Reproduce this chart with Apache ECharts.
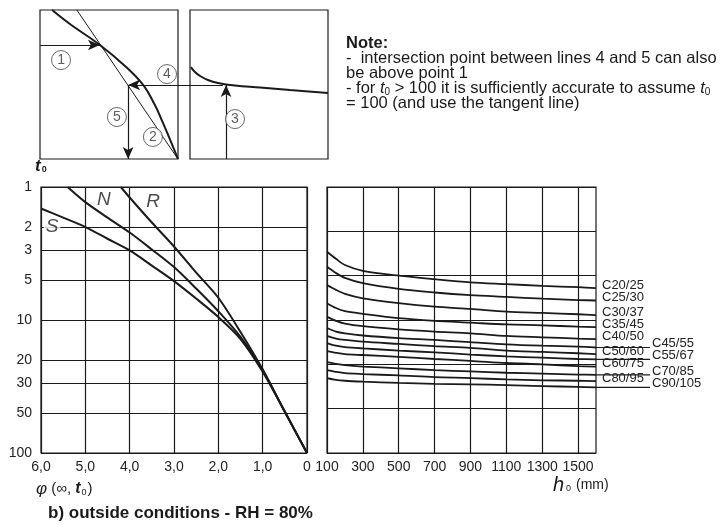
<!DOCTYPE html>
<html>
<head>
<meta charset="utf-8">
<script src="https://cdn.jsdelivr.net/npm/echarts@6/dist/echarts.min.js"></script>
<style>
  html, body { margin: 0; padding: 0; background: #fff; }
  #chart { width: 722px; height: 525px; }
</style>
</head>
<body>
<div id="chart"></div>
<script>
// ---- left nomogram: phi(inf, t0) vs t0, curves S / N / R
const phiTicks = [0, 1, 2, 3, 4, 5, 6];
const t0Ticks = [1, 2, 3, 5, 10, 20, 30, 50, 100];
const phiS = [6.0, 5.5, 5.0, 4.5, 4.0, 3.5, 3.0, 2.5, 2.0, 1.5, 1.0, 0.5, 0];
const t0S = [1.45, 1.7, 2.0, 2.45, 3.0, 3.9, 5.1, 6.9, 9.5, 13.9, 24.5, 49, 100];
const phiN = [5.4, 5.0, 4.5, 4.0, 3.5, 3.0, 2.5, 2.0, 1.5, 1.0, 0.5, 0];
const t0N = [1.0, 1.3, 1.7, 2.2, 2.95, 4.0, 5.8, 8.6, 13.4, 24, 49, 100];
const phiR = [4.2, 4.0, 3.5, 3.0, 2.5, 2.0, 1.5, 1.0, 0.5, 0];
const t0R = [1.0, 1.2, 1.85, 2.8, 4.4, 6.8, 12.3, 23.5, 49, 100];
const curveNames = ['S', 'N', 'R'];
const curveNamePhi = [5.75, 4.58, 3.47];
const curveNameT0 = [2.0, 1.25, 1.3];

// ---- right nomogram: h0 (mm) vs concrete class
const h0Ticks = [100, 300, 500, 700, 900, 1100, 1300, 1500];
const h0 = [100, 150, 200, 300, 500, 700, 900, 1100, 1300, 1500, 1600];
const classes = ['C20/25', 'C25/30', 'C30/37', 'C35/45', 'C40/50', 'C45/55',
  'C50/60', 'C55/67', 'C60/75', 'C70/85', 'C80/95', 'C90/105'];
const c20_25 = [4.54, 4.38, 4.24, 4.11, 4.00, 3.92, 3.85, 3.81, 3.77, 3.74, 3.72];
const c25_30 = [4.20, 4.06, 3.95, 3.83, 3.70, 3.62, 3.56, 3.52, 3.48, 3.45, 3.44];
const c30_37 = [3.79, 3.68, 3.59, 3.49, 3.38, 3.30, 3.25, 3.19, 3.16, 3.13, 3.11];
const c35_45 = [3.38, 3.27, 3.20, 3.14, 3.04, 2.98, 2.94, 2.90, 2.88, 2.85, 2.84];
const c40_50 = [3.07, 2.98, 2.92, 2.86, 2.79, 2.74, 2.70, 2.64, 2.61, 2.58, 2.57];
const c45_55 = [2.82, 2.74, 2.70, 2.65, 2.59, 2.55, 2.50, 2.45, 2.42, 2.40, 2.38];
const c50_60 = [2.64, 2.58, 2.55, 2.51, 2.46, 2.41, 2.37, 2.31, 2.28, 2.25, 2.23];
const c55_67 = [2.48, 2.42, 2.39, 2.36, 2.31, 2.27, 2.22, 2.18, 2.15, 2.12, 2.11];
const c60_75 = [2.30, 2.26, 2.23, 2.21, 2.17, 2.12, 2.08, 2.03, 2.00, 1.96, 1.95];
const c70_85 = [2.05, 2.01, 1.98, 1.95, 1.91, 1.87, 1.84, 1.81, 1.79, 1.77, 1.76];
const c80_95 = [1.87, 1.83, 1.80, 1.78, 1.75, 1.71, 1.69, 1.66, 1.64, 1.63, 1.62];
const c90_105 = [1.69, 1.65, 1.63, 1.61, 1.58, 1.56, 1.55, 1.53, 1.51, 1.49, 1.48];
const classValues = [c20_25, c25_30, c30_37, c35_45, c40_50, c45_55,
  c50_60, c55_67, c60_75, c70_85, c80_95, c90_105];
const shiftedLabels = ['C45/55', 'C55/67', 'C70/85', 'C90/105'];

// ---- small how-to sketch above (units 0..100 over both boxes)
const sketchCurveX = [4.2, 10.4, 20.8, 29.5, 35.8, 39.9, 42.7, 46.2, 47.9];
const sketchCurveY = [100, 90.6, 76.5, 62.4, 49.7, 36.2, 24.2, 8.1, 0];
const tangentX = [12.8, 47.9];
const tangentY = [100, 0];
const sketchH0X = [52.4, 53.8, 55.6, 58.3, 61.8, 67.7, 76.4, 86.8, 100];
const sketchH0Y = [61.7, 58.4, 55.7, 53.0, 51.0, 49.3, 48.0, 46.3, 44.3];
const arrow1 = [[0, 76.5], [20.8, 76.5]];
const arrow3 = [[64.6, 0], [64.6, 49.7]];
const arrow4 = [[63.5, 49.7], [30.6, 49.7]];
const arrow5 = [[30.6, 49.7], [30.6, 0]];
const stepX = [7.3, 39.2, 67.7, 44.1, 26.7];
const stepY = [66.4, 14.8, 26.8, 57.0, 28.2];
const stepNo = ['1', '2', '3', '4', '5'];

const FONT = '"Liberation Sans", Arial, sans-serif';
const INK = '#1a1a1a';
const lg = (v) => Math.log10(v);
const zip = (xs, ys) => xs.map((x, i) => [x, ys[i]]);

const chart = echarts.init(document.getElementById('chart'));

const gridLine = { show: true, lineStyle: { color: INK, width: 1.2 } };
const hiddenAxis = (i) => ({ gridIndex: i, type: 'value', min: 0, max: 100, show: false });

const leftCurves = [[phiS, t0S], [phiN, t0N], [phiR, t0R]].map((c, i) => ({
  type: 'line',
  name: curveNames[i],
  xAxisIndex: 0,
  yAxisIndex: 0,
  data: c[0].map((p, k) => [p, lg(c[1][k])]),
  smooth: 0.3,
  symbol: 'none',
  lineStyle: { color: INK, width: 2 },
  z: 3,
}));

const rightCurves = classes.map((name, i) => {
  const shifted = shiftedLabels.indexOf(name) >= 0;
  return {
    type: 'line',
    name: name,
    xAxisIndex: 1,
    yAxisIndex: 1,
    data: zip(h0, classValues[i]),
    smooth: 0.3,
    symbol: 'none',
    lineStyle: { color: INK, width: 1.8 },
    endLabel: {
      show: true,
      formatter: () => name,
      distance: 6,
      offset: [shifted ? 50 : 0, shifted ? -4 : -3],
      fontFamily: FONT,
      fontSize: 13,
      color: '#222',
    },
    z: 3,
  };
});

const option = {
  animation: false,
  grid: [
    { left: 41, top: 187, width: 266, height: 266, show: true, borderColor: INK, borderWidth: 1.2 },
    { left: 327, top: 187, width: 269, height: 266, show: true, borderColor: INK, borderWidth: 1.2 },
    { left: 40, top: 10, width: 138, height: 149, show: true, borderColor: INK, borderWidth: 1.2 },
    { left: 190, top: 10, width: 138, height: 149, show: true, borderColor: INK, borderWidth: 1.2 },
    { left: 40, top: 10, width: 288, height: 149 },
  ],
  xAxis: [
    {
      gridIndex: 0, type: 'value', min: 0, max: 6, interval: 1, inverse: true,
      axisLine: { show: false }, axisTick: { show: false }, splitLine: gridLine,
      axisLabel: {
        margin: 7, fontFamily: FONT, fontSize: 14, color: '#222',
        formatter: (v) => (v === 0 ? '0' : v.toFixed(1).replace('.', ',')),
      },
    },
    {
      gridIndex: 1, type: 'value', min: 100, max: 1600,
      axisLine: { show: false },
      axisTick: { show: false, customValues: h0Ticks },
      splitLine: gridLine,
      axisLabel: {
        customValues: h0Ticks, margin: 7, fontFamily: FONT, fontSize: 14, color: '#222',
        formatter: (v) => String(v),
      },
    },
    hiddenAxis(2), hiddenAxis(3), hiddenAxis(4),
  ],
  yAxis: [
    {
      gridIndex: 0, type: 'value', min: 0, max: 2, inverse: true,
      axisLine: { show: false },
      axisTick: { show: false, customValues: t0Ticks.map(lg) },
      splitLine: gridLine,
      axisLabel: {
        customValues: t0Ticks.map(lg), margin: 9, fontFamily: FONT, fontSize: 14, color: '#222',
        formatter: (v) => String(Math.round(Math.pow(10, v))),
      },
    },
    {
      gridIndex: 1, type: 'value', min: 0, max: 6, interval: 1,
      axisLine: { show: false }, axisTick: { show: false }, axisLabel: { show: false },
      splitLine: gridLine,
    },
    hiddenAxis(2), hiddenAxis(3), hiddenAxis(4),
  ],
  series: [
    ...leftCurves,
    {
      type: 'scatter',
      xAxisIndex: 0,
      yAxisIndex: 0,
      data: curveNames.map((n, i) => ({
        value: [curveNamePhi[i], lg(curveNameT0[i]), n],
        // S sits on a grid line, so it gets a white patch behind it
        label: n === 'S' ? { backgroundColor: '#fff', padding: [0, 2] } : {},
      })),
      symbolSize: 1,
      itemStyle: { color: 'rgba(0,0,0,0)' },
      label: {
        show: true, position: 'inside', formatter: (p) => p.value[2],
        fontFamily: FONT, fontSize: 19, fontStyle: 'italic', color: INK,
      },
      labelLayout: { hideOverlap: false },
      z: 5,
    },
    ...rightCurves,
    {
      type: 'line', xAxisIndex: 4, yAxisIndex: 4,
      data: zip(sketchCurveX, sketchCurveY),
      smooth: 0.4, symbol: 'none', lineStyle: { color: INK, width: 2 },
    },
    {
      type: 'line', xAxisIndex: 4, yAxisIndex: 4,
      data: zip(sketchH0X, sketchH0Y),
      smooth: 0.4, symbol: 'none', lineStyle: { color: INK, width: 2 },
    },
    {
      type: 'line', xAxisIndex: 4, yAxisIndex: 4,
      data: zip(tangentX, tangentY),
      symbol: 'none', lineStyle: { color: INK, width: 1 },
      markLine: {
        silent: true,
        symbol: ['none', 'arrow'],
        symbolSize: [8, 12],
        label: { show: false },
        lineStyle: { color: INK, width: 1.2, type: 'solid' },
        data: [arrow1, arrow3, arrow4, arrow5].map((a) => [{ coord: a[0] }, { coord: a[1] }]),
      },
    },
    {
      type: 'scatter', xAxisIndex: 4, yAxisIndex: 4,
      data: stepNo.map((n, i) => [stepX[i], stepY[i], n]),
      symbol: 'circle', symbolSize: 19,
      itemStyle: { color: '#fff', borderColor: '#444', borderWidth: 1 },
      label: {
        show: true, position: 'inside', formatter: (p) => p.data[2],
        fontFamily: FONT, fontSize: 14, color: '#333',
      },
      z: 6,
    },
  ],
};

chart.setOption(option);

// texts around the charts
const txt = (x, y, text, font, extra) => ({
  type: 'text',
  style: Object.assign({ x: x, y: y, text: text, font: font, fill: INK, verticalAlign: 'middle' }, extra || {}),
});
const sub = { t: { fontFamily: FONT, fontSize: 16.5, fontStyle: 'italic' },
  s: { fontFamily: FONT, fontSize: 10, padding: [8, 0, 0, 0] } };
const NOTE = '16.5px ' + FONT;

const graphics = [
  txt(346, 43, 'Note:', 'bold 16.5px ' + FONT),
  txt(346, 58, '-  intersection point between lines 4 and 5 can also', NOTE),
  txt(346, 73, 'be above point 1', NOTE),
  txt(346, 88, '- for {t|t}{s|0} > 100 it is sufficiently accurate to assume {t|t}{s|0}', NOTE, { rich: sub }),
  txt(346, 103, '= 100 (and use the tangent line)', NOTE),
  txt(35, 166, '{b|t}{s|0}', '15px ' + FONT, {
    rich: { b: { fontFamily: FONT, fontSize: 17, fontWeight: 'bold', fontStyle: 'italic' },
      s: { fontFamily: FONT, fontSize: 9, fontWeight: 'bold', padding: [7, 0, 0, 1] } },
  }),
  txt(36, 489, '{p|φ} (∞, {b|t}{s|0})', '15px ' + FONT, {
    rich: { p: { fontFamily: FONT, fontSize: 17, fontStyle: 'italic' },
      b: { fontFamily: FONT, fontSize: 16, fontWeight: 'bold', fontStyle: 'italic' },
      s: { fontFamily: FONT, fontSize: 9, padding: [7, 1, 0, 1] } },
  }),
  txt(553, 485, '{h|h}{s|0} (mm)', '14px ' + FONT, {
    rich: { h: { fontFamily: FONT, fontSize: 20, fontStyle: 'italic' },
      s: { fontFamily: FONT, fontSize: 9, padding: [8, 1, 0, 2] } },
  }),
  txt(48, 513, 'b) outside conditions - RH = 80%', 'bold 17px ' + FONT),
];

// leader lines to the labels that are set further right
classes.forEach((name, i) => {
  if (shiftedLabels.indexOf(name) < 0) return;
  const vals = classValues[i];
  const p = chart.convertToPixel({ xAxisIndex: 1, yAxisIndex: 1 }, [h0[h0.length - 1], vals[vals.length - 1]]);
  graphics.push({
    type: 'line',
    shape: { x1: p[0], y1: p[1], x2: p[0] + 54, y2: p[1] },
    style: { stroke: INK, lineWidth: 1.2 },
  });
});

chart.setOption({ graphic: graphics });
</script>
</body>
</html>
